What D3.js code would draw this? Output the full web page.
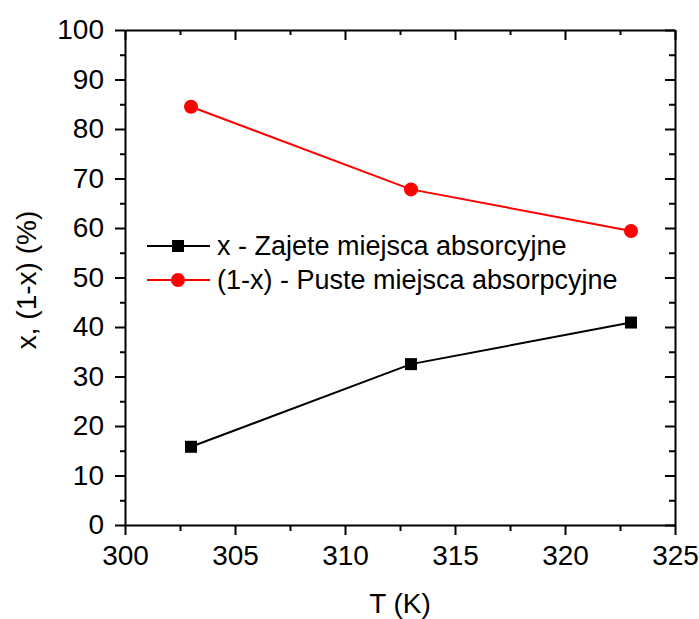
<!DOCTYPE html>
<html>
<head>
<meta charset="utf-8">
<script src="https://cdn.jsdelivr.net/npm/d3@7"></script>
<style>
body{margin:0;background:#fff;}
svg{display:block;font-family:"Liberation Sans",Arial,sans-serif;}
</style>
</head>
<body>
<svg id="chart" width="699" height="619"></svg>
<script>
const temps = [303, 313, 323];
const occupied = [15.8, 32.5, 40.9];
const empty = [84.5, 67.8, 59.4];
const seriesNames = ["x - Zajete miejsca absorcyjne", "(1-x) - Puste miejsca absorpcyjne"];
const xTicks = [300, 305, 310, 315, 320, 325];
const xMinor = [302.5, 307.5, 312.5, 317.5, 322.5];
const yTicks = [0, 10, 20, 30, 40, 50, 60, 70, 80, 90, 100];
const yMinor = [5, 15, 25, 35, 45, 55, 65, 75, 85, 95];
const xTitle = "T (K)";
const yTitle = "x, (1-x) (%)";

const svg = d3.select("#chart");
const L = 125, R = 675, T = 30, B = 525;
const x = d3.scaleLinear().domain([300, 325]).range([L, R]);
const y = d3.scaleLinear().domain([0, 100]).range([B, T]);
const tickFont = 28;

function styleAxis(g, fs) {
  g.selectAll("path.domain").attr("stroke", "#000").attr("stroke-width", 2);
  g.selectAll(".tick line").attr("stroke", "#000").attr("stroke-width", 2);
  g.selectAll("text").attr("font-size", fs).attr("fill", "#000").attr("font-family", "Liberation Sans, Arial, sans-serif");
}

// bottom axis
const gb = svg.append("g").attr("transform", `translate(0,${B})`)
  .call(d3.axisBottom(x).tickValues(xTicks).tickSize(10).tickPadding(10).tickSizeOuter(0).tickFormat(d3.format("d")));
styleAxis(gb, tickFont);
svg.append("g").attr("transform", `translate(0,${B})`)
  .call(d3.axisBottom(x).tickValues(xMinor).tickSize(6).tickFormat(""))
  .call(g => { g.select(".domain").remove(); styleAxis(g, 0); });

// top axis (inward)
const gt = svg.append("g").attr("transform", `translate(0,${T})`)
  .call(d3.axisBottom(x).tickValues(xTicks).tickSize(10).tickSizeOuter(0).tickFormat(""));
styleAxis(gt, 0);
svg.append("g").attr("transform", `translate(0,${T})`)
  .call(d3.axisBottom(x).tickValues(xMinor).tickSize(5).tickFormat(""))
  .call(g => { g.select(".domain").remove(); styleAxis(g, 0); });

// left axis
const gl = svg.append("g").attr("transform", `translate(${L},0)`)
  .call(d3.axisLeft(y).tickValues(yTicks).tickSize(10).tickPadding(11).tickSizeOuter(0).tickFormat(d3.format("d")));
styleAxis(gl, tickFont);
svg.append("g").attr("transform", `translate(${L},0)`)
  .call(d3.axisLeft(y).tickValues(yMinor).tickSize(5).tickFormat(""))
  .call(g => { g.select(".domain").remove(); styleAxis(g, 0); });

// right axis (inward)
const gr = svg.append("g").attr("transform", `translate(${R},0)`)
  .call(d3.axisLeft(y).tickValues(yTicks).tickSize(10).tickSizeOuter(0).tickFormat(""));
styleAxis(gr, 0);
svg.append("g").attr("transform", `translate(${R},0)`)
  .call(d3.axisLeft(y).tickValues(yMinor).tickSize(6).tickFormat(""))
  .call(g => { g.select(".domain").remove(); styleAxis(g, 0); });

// lines
const line = d3.line().x((d, i) => x(temps[i])).y(d => y(d));
svg.append("path").datum(occupied).attr("d", line).attr("fill", "none").attr("stroke", "#000").attr("stroke-width", 2);
svg.append("path").datum(empty).attr("d", line).attr("fill", "none").attr("stroke", "#ff0000").attr("stroke-width", 2);

const sq = 12;
svg.append("g").selectAll("rect").data(occupied).join("rect")
  .attr("x", (d, i) => x(temps[i]) - sq / 2).attr("y", d => y(d) - sq / 2)
  .attr("width", sq).attr("height", sq).attr("fill", "#000");
svg.append("g").selectAll("circle").data(empty).join("circle")
  .attr("cx", (d, i) => x(temps[i])).attr("cy", d => y(d)).attr("r", 7).attr("fill", "#ff0000");

// legend
const legX1 = 147, legX2 = 210, legMid = 178, legText = 217;
const rows = [246, 280];
const colors = ["#000", "#ff0000"];
rows.forEach((ry, i) => {
  svg.append("line").attr("x1", legX1).attr("x2", legX2).attr("y1", ry).attr("y2", ry)
    .attr("stroke", colors[i]).attr("stroke-width", 2);
  if (i === 0) {
    svg.append("rect").attr("x", legMid - sq / 2).attr("y", ry - sq / 2).attr("width", sq).attr("height", sq).attr("fill", colors[i]);
  } else {
    svg.append("circle").attr("cx", legMid).attr("cy", ry).attr("r", 7).attr("fill", colors[i]);
  }
  svg.append("text").attr("x", legText).attr("y", ry + 9).attr("font-size", 27).attr("fill", "#000").text(seriesNames[i]);
});

// axis titles
svg.append("text").attr("x", (L + R) / 2).attr("y", 613).attr("text-anchor", "middle")
  .attr("font-size", 28).attr("fill", "#000").text(xTitle);
svg.append("text").attr("transform", `translate(36,280) rotate(-90)`).attr("text-anchor", "middle")
  .attr("font-size", 28).attr("fill", "#000").text(yTitle);
</script>
</body>
</html>
